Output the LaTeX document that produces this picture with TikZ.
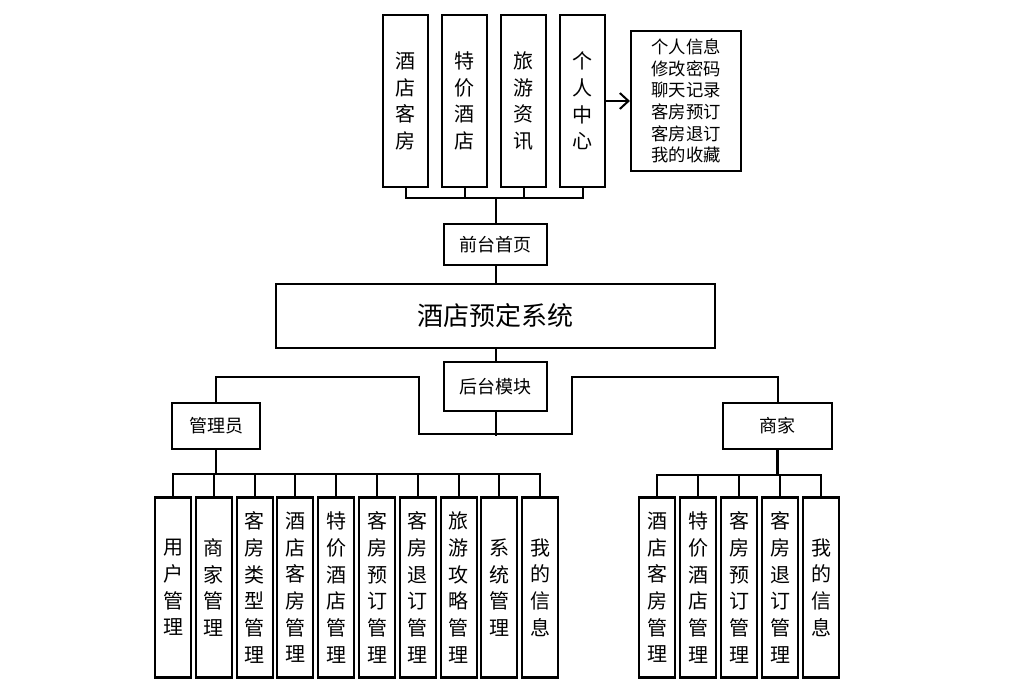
\documentclass[tikz,border=0pt]{standalone}
\usepackage{fontspec}
\setmainfont{Noto Sans CJK SC}
\usetikzlibrary{positioning,arrows.meta,calc}

\begin{document}
\begin{tikzpicture}[x=0.75pt, y=-0.75pt, line width=1.5pt,
  >={Straight Barb[length=6.5pt,width=12pt]},
  box/.style={draw=black, line width=1.6pt, align=center, inner sep=0pt},
  vbox/.style={box, minimum width=27pt, text width=27pt,
               font=\fontsize{15}{20}\selectfont},
  topbox/.style={vbox, minimum width=33.75pt, minimum height=129pt},
  subbox/.style={vbox, minimum height=135pt},
  hbox/.style={box, font=\fontsize{13.5}{16}\selectfont}]
\useasboundingbox (0,0) rectangle (1025,685);
% front-end menu
\node[topbox] (room)   at (405.5,101) {酒\\店\\客\\房};
\node[topbox] (deal)   at (464.5,101) {特\\价\\酒\\店};
\node[topbox] (travel) at (523.5,101) {旅\\游\\资\\讯};
\node[topbox] (mine)   at (582.5,101) {个\\人\\中\\心};
\node[box, minimum width=82.5pt, minimum height=105pt,
      font=\fontsize{13}{16.3}\selectfont] (minelist) at (686,101)
      {个人信息\\修改密码\\聊天记录\\客房预订\\客房退订\\我的收藏};
\draw[->] (mine.east) -- (minelist.west);
\node[hbox, minimum width=77.25pt, minimum height=30.75pt] (front) at (495.5,244.5) {前台首页};
\draw (front.north) -- ++(0,-25) coordinate (topbus);
\foreach \n in {room,deal,travel,mine} \draw (\n.south) |- (topbus);
% system
\node[box, minimum width=329.25pt, minimum height=48pt,
      font=\fontsize{19.5}{22}\selectfont] (sys) at (495.5,316) {酒店预定系统};
\draw (front.south) -- (sys.north);
\node[hbox, minimum width=77.25pt, minimum height=36.75pt] (back) at (495.5,386.5) {后台模块};
\draw (sys.south) -- (back.north);
% back-end roles
\node[hbox, minimum width=66pt, minimum height=34.5pt] (admin) at (216,426) {管理员};
\node[hbox, minimum width=81.75pt, minimum height=34.5pt] (seller) at (777.5,426) {商家};
\draw (back.south) -- ++(0,24);
\draw (admin.north) |- ++(203,-25) -- ++(0,57) -- ++(153,0) -- ++(0,-57) -| (seller.north);
% admin modules
\draw[line width=2pt] (admin.south) -- ++(0,24) coordinate (adminbus);
\foreach \t [count=\i from 0] in {用\\户\\管\\理, 商\\家\\管\\理, 客\\房\\类\\型\\管\\理,
    酒\\店\\客\\房\\管\\理, 特\\价\\酒\\店\\管\\理, 客\\房\\预\\订\\管\\理,
    客\\房\\退\\订\\管\\理, 旅\\游\\攻\\略\\管\\理, 系\\统\\管\\理, 我\\的\\信\\息} {
  \node[subbox] (a\i) at (173+40.8*\i,587.5) {\t};
  \draw (a\i.north) |- (adminbus);
}
% seller modules
\draw[line width=2pt] (seller.south) -- ++(0,25) coordinate (sellerbus);
\foreach \t [count=\i from 0] in {酒\\店\\客\\房\\管\\理, 特\\价\\酒\\店\\管\\理,
    客\\房\\预\\订\\管\\理, 客\\房\\退\\订\\管\\理, 我\\的\\信\\息} {
  \node[subbox] (s\i) at (657+41*\i,587.5) {\t};
  \draw (s\i.north) |- (sellerbus);
}
\end{tikzpicture}
\end{document}
